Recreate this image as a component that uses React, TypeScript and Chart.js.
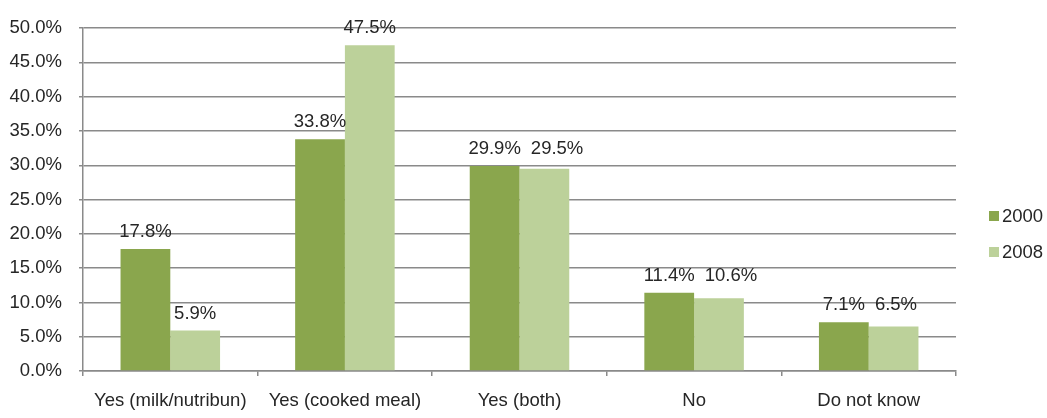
import React, { useEffect, useRef } from "react";
import { Chart, registerables } from "chart.js";

Chart.register(...registerables);

const categories = ["Yes (milk/nutribun)", "Yes (cooked meal)", "Yes (both)", "No", "Do not know"];
const series2000 = [17.8, 33.8, 29.9, 11.4, 7.1];
const series2008 = [5.9, 47.5, 29.5, 10.6, 6.5];
const seriesNames = ["2000", "2008"];
const yTicks = [0, 5, 10, 15, 20, 25, 30, 35, 40, 45, 50];

const COLORS = ["#8aa64d", "#bcd19a"];
const TEXT = "#262626";
const GRID = "#8a8a8a";
const FONT = "'Liberation Sans', Arial, sans-serif";
const FS = 18.5;

const overlayPlugin = {
  id: "overlay",
  afterDatasetsDraw(chart: any) {
    const ctx = chart.ctx;
    ctx.save();
    ctx.font = `${FS}px ${FONT}`;
    ctx.fillStyle = TEXT;
    ctx.textAlign = "center";
    ctx.textBaseline = "alphabetic";
    const m0 = chart.getDatasetMeta(0);
    const m1 = chart.getDatasetMeta(1);
    const d0 = chart.data.datasets[0].data as number[];
    const d1 = chart.data.datasets[1].data as number[];
    for (let i = 0; i < categories.length; i++) {
      const b0 = m0.data[i];
      const b1 = m1.data[i];
      let y0 = b0.y;
      let y1 = b1.y;
      const t0 = d0[i].toFixed(1) + "%";
      const t1 = d1[i].toFixed(1) + "%";
      let x1 = b1.x;
      if (Math.abs(d0[i] - d1[i]) <= 1) {
        const t = Math.min(y0, y1);
        y0 = t;
        y1 = t;
        const w0 = ctx.measureText(t0).width;
        const w1 = ctx.measureText(t1).width;
        const minX1 = b0.x + w0 / 2 + 10 + w1 / 2;
        if (x1 < minX1) x1 = minX1;
      }
      const gap = 12;
      ctx.fillText(t0, b0.x, y0 - gap);
      ctx.fillText(t1, x1, y1 - gap);
    }
    // legend
    ctx.textAlign = "left";
    ctx.textBaseline = "middle";
    const legendY = [216, 252];
    seriesNames.forEach((name, k) => {
      ctx.fillStyle = COLORS[k];
      ctx.fillRect(989, legendY[k] - 5, 10, 10);
      ctx.fillStyle = TEXT;
      ctx.fillText(name, 1002, legendY[k] + 1);
    });
    ctx.restore();
  },
};

export default function App() {
  const ref = useRef<HTMLCanvasElement | null>(null);
  useEffect(() => {
    if (!ref.current) return;
    const chart = new Chart(ref.current, {
      type: "bar",
      data: {
        labels: categories,
        datasets: [
          { label: seriesNames[0], data: series2000, backgroundColor: COLORS[0], borderWidth: 0 },
          { label: seriesNames[1], data: series2008, backgroundColor: COLORS[1], borderWidth: 0 },
        ],
      },
      options: {
        responsive: false,
        animation: false,
        devicePixelRatio: 1,
        layout: { padding: { top: 22, right: 91, left: 0, bottom: 0 } },
        datasets: { bar: { categoryPercentage: 0.57, barPercentage: 1.0 } },
        plugins: {
          legend: { display: false },
          tooltip: { enabled: false },
        },
        scales: {
          x: {
            offset: true,
            grid: {
              offset: true,
              drawOnChartArea: false,
              drawTicks: true,
              tickLength: 5,
              color: GRID,
              lineWidth: 1.5,
            },
            border: { color: GRID, width: 1.5 },
            ticks: {
              color: TEXT,
              font: { family: FONT, size: FS },
              padding: 14,
              maxRotation: 0,
              autoSkip: false,
            },
            afterFit: (s: any) => {
              s.height = 47;
            },
          },
          y: {
            min: 0,
            max: 50,
            afterBuildTicks: (s: any) => {
              s.ticks = yTicks.map((v) => ({ value: v }));
            },
            grid: {
              color: GRID,
              lineWidth: 1.5,
              tickLength: 4,
              drawTicks: true,
            },
            border: { color: GRID, width: 1.5 },
            ticks: {
              color: TEXT,
              font: { family: FONT, size: FS },
              padding: 17,
              callback: (v: any) => Number(v).toFixed(1) + "%",
            },
            afterFit: (s: any) => {
              s.width = 83;
            },
          },
        },
      },
      plugins: [overlayPlugin],
    });
    return () => chart.destroy();
  }, []);
  return (
    <div style={{ position: "fixed", left: 0, top: 0, width: 1047, height: 418, background: "#fff" }}>
      <canvas ref={ref} width={1047} height={418} style={{ width: 1047, height: 418, display: "block" }} />
    </div>
  );
}
